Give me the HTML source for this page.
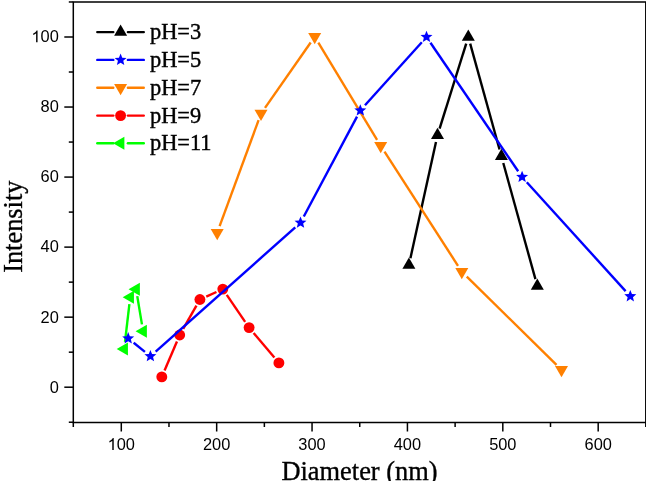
<!DOCTYPE html>
<html><head><meta charset="utf-8"><style>
html,body{margin:0;padding:0;background:#fff;}
svg{display:block;will-change:transform;}
</style></head><body>
<svg width="646" height="488" viewBox="0 0 646 488">
<rect width="646" height="488" fill="#fff"/>
<g stroke="#000" stroke-width="1.5" fill="none">
<rect x="73.3" y="2" width="572.5" height="420.5"/>
<line x1="68.8" y1="422.22" x2="73.3" y2="422.22"/>
<line x1="64.3" y1="387.2" x2="73.3" y2="387.2"/>
<line x1="68.8" y1="352.18" x2="73.3" y2="352.18"/>
<line x1="64.3" y1="317.16" x2="73.3" y2="317.16"/>
<line x1="68.8" y1="282.14" x2="73.3" y2="282.14"/>
<line x1="64.3" y1="247.12" x2="73.3" y2="247.12"/>
<line x1="68.8" y1="212.1" x2="73.3" y2="212.1"/>
<line x1="64.3" y1="177.08" x2="73.3" y2="177.08"/>
<line x1="68.8" y1="142.06" x2="73.3" y2="142.06"/>
<line x1="64.3" y1="107.04" x2="73.3" y2="107.04"/>
<line x1="68.8" y1="72.02" x2="73.3" y2="72.02"/>
<line x1="64.3" y1="37" x2="73.3" y2="37"/>
<line x1="68.8" y1="1.98" x2="73.3" y2="1.98"/>
<line x1="73.3" y1="422.5" x2="73.3" y2="427"/>
<line x1="121.29" y1="422.5" x2="121.29" y2="431.5"/>
<line x1="168.98" y1="422.5" x2="168.98" y2="427"/>
<line x1="216.67" y1="422.5" x2="216.67" y2="431.5"/>
<line x1="264.36" y1="422.5" x2="264.36" y2="427"/>
<line x1="312.05" y1="422.5" x2="312.05" y2="431.5"/>
<line x1="359.74" y1="422.5" x2="359.74" y2="427"/>
<line x1="407.43" y1="422.5" x2="407.43" y2="431.5"/>
<line x1="455.12" y1="422.5" x2="455.12" y2="427"/>
<line x1="502.81" y1="422.5" x2="502.81" y2="431.5"/>
<line x1="550.5" y1="422.5" x2="550.5" y2="427"/>
<line x1="598.19" y1="422.5" x2="598.19" y2="431.5"/>
<line x1="645.8" y1="422.5" x2="645.8" y2="427"/>
</g>
<g font-family="Liberation Sans" font-size="16.4" fill="#000">
<text x="49.68" y="393.4">0</text>
<text x="40.56" y="323.26">2</text><text x="49.68" y="323.26">0</text>
<text x="40.56" y="252.47">4</text><text x="49.68" y="252.47">0</text>
<text x="40.56" y="182.43">6</text><text x="49.68" y="182.43">0</text>
<text x="40.56" y="112.39">8</text><text x="49.68" y="112.39">0</text>
<path transform="translate(31.44,42.35) scale(0.008008,-0.008008)" d="M763 0L583 0L583 1147Q518 1085 465 1054Q412 1023 359 992Q306 961 221 930L221 1104Q372 1175 428.5 1225.5Q485 1276 541.5 1326.5Q598 1377 645 1472L763 1472Z"/><text x="40.56" y="42.35">0</text><text x="49.68" y="42.35">0</text>
<path transform="translate(107.61,449.9) scale(0.008008,-0.008008)" d="M763 0L583 0L583 1147Q518 1085 465 1054Q412 1023 359 992Q306 961 221 930L221 1104Q372 1175 428.5 1225.5Q485 1276 541.5 1326.5Q598 1377 645 1472L763 1472Z"/><text x="116.73" y="449.9">0</text><text x="125.85" y="449.9">0</text>
<text x="202.99" y="449.9">2</text><text x="212.11" y="449.9">0</text><text x="221.23" y="449.9">0</text>
<text x="298.37" y="449.9">3</text><text x="307.49" y="449.9">0</text><text x="316.61" y="449.9">0</text>
<text x="393.75" y="449.9">4</text><text x="402.87" y="449.9">0</text><text x="411.99" y="449.9">0</text>
<text x="489.13" y="449.9">5</text><text x="498.25" y="449.9">0</text><text x="507.37" y="449.9">0</text>
<text x="584.51" y="449.9">6</text><text x="593.63" y="449.9">0</text><text x="602.75" y="449.9">0</text>
</g>
<defs><clipPath id="cb"><rect x="0" y="0" width="646" height="481"/></clipPath></defs>
<text clip-path="url(#cb)" x="359.5" y="479.8" text-anchor="middle" font-family="Liberation Serif" stroke="#000" stroke-width="0.35" font-size="26.4">Diameter (nm)</text>
<text transform="translate(22.2,226.7) rotate(-90)" text-anchor="middle" font-family="Liberation Serif" stroke="#000" stroke-width="0.35" font-size="26.4">Intensity</text>
<g stroke="#000000" stroke-width="2.4" stroke-linecap="butt"><line x1="410.41" y1="258.26" x2="435.99" y2="142.04"/><line x1="439.59" y1="128.52" x2="466.21" y2="43.58"/><line x1="470.17" y1="43.65" x2="499.53" y2="149.55"/><line x1="503.27" y1="163.05" x2="535.43" y2="279.15"/></g><polygon points="408.9,257.59 415.4,268.85 402.4,268.85" fill="#000000"/><polygon points="437.5,127.69 444,138.95 431,138.95" fill="#000000"/><polygon points="468.3,29.39 474.8,40.65 461.8,40.65" fill="#000000"/><polygon points="501.4,148.79 507.9,160.05 494.9,160.05" fill="#000000"/><polygon points="537.3,278.39 543.8,289.65 530.8,289.65" fill="#000000"/>
<g stroke="#FF8000" stroke-width="2.4" stroke-linecap="butt"><line x1="219.62" y1="226.13" x2="258.58" y2="120.17"/><line x1="265.01" y1="107.86" x2="310.69" y2="42.44"/><line x1="318.32" y1="42.69" x2="377.08" y2="139.81"/><line x1="384.49" y1="151.68" x2="458.01" y2="265.82"/><line x1="466.79" y1="276.61" x2="556.51" y2="364.89"/></g><polygon points="217.2,240.21 223.7,228.95 210.7,228.95" fill="#FF8000"/><polygon points="261,121.11 267.5,109.85 254.5,109.85" fill="#FF8000"/><polygon points="314.7,44.21 321.2,32.95 308.2,32.95" fill="#FF8000"/><polygon points="380.7,153.31 387.2,142.05 374.2,142.05" fill="#FF8000"/><polygon points="461.8,279.21 468.3,267.95 455.3,267.95" fill="#FF8000"/><polygon points="561.5,377.31 568,366.05 555,366.05" fill="#FF8000"/>
<g stroke="#FF0000" stroke-width="2.4" stroke-linecap="butt"><line x1="164.55" y1="370.46" x2="176.95" y2="341.44"/><line x1="183.16" y1="328.92" x2="196.44" y2="305.58"/><line x1="206.27" y1="296.61" x2="216.43" y2="291.99"/><line x1="226.75" y1="294.88" x2="245.15" y2="321.82"/><line x1="253.62" y1="332.95" x2="274.38" y2="357.55"/></g><circle cx="161.8" cy="376.9" r="5.45" fill="#FF0000"/><circle cx="179.7" cy="335" r="5.45" fill="#FF0000"/><circle cx="199.9" cy="299.5" r="5.45" fill="#FF0000"/><circle cx="222.8" cy="289.1" r="5.45" fill="#FF0000"/><circle cx="249.1" cy="327.6" r="5.45" fill="#FF0000"/><circle cx="278.9" cy="362.9" r="5.45" fill="#FF0000"/>
<g stroke="#00FF00" stroke-width="2.4" stroke-linecap="butt"><line x1="125.01" y1="341.95" x2="129.39" y2="304.15"/><line x1="137.25" y1="296.11" x2="141.95" y2="324.39"/></g><polygon points="116.69,348.9 127.95,342.4 127.95,355.4" fill="#00FF00"/><polygon points="122.69,297.2 133.95,290.7 133.95,303.7" fill="#00FF00"/><polygon points="128.59,289.2 139.85,282.7 139.85,295.7" fill="#00FF00"/><polygon points="135.59,331.3 146.85,324.8 146.85,337.8" fill="#00FF00"/>
<g stroke="#0000FF" stroke-width="2.4" stroke-linecap="butt"><line x1="133.66" y1="342.78" x2="144.94" y2="351.82"/><line x1="155.63" y1="351.55" x2="295.27" y2="227.35"/><line x1="303.79" y1="216.52" x2="357.01" y2="116.68"/><line x1="364.98" y1="105.3" x2="421.82" y2="42.2"/><line x1="430.45" y1="42.78" x2="518.15" y2="171.22"/><line x1="526.8" y1="182.19" x2="625.6" y2="291.11"/></g><polygon points="128.2,332.1 129.85,336.13 134.19,336.45 130.86,339.27 131.9,343.5 128.2,341.2 124.5,343.5 125.54,339.27 122.21,336.45 126.55,336.13" fill="#0000FF"/><polygon points="150.4,349.9 152.05,353.93 156.39,354.25 153.06,357.07 154.1,361.3 150.4,359 146.7,361.3 147.74,357.07 144.41,354.25 148.75,353.93" fill="#0000FF"/><polygon points="300.5,216.4 302.15,220.43 306.49,220.75 303.16,223.57 304.2,227.8 300.5,225.5 296.8,227.8 297.84,223.57 294.51,220.75 298.85,220.43" fill="#0000FF"/><polygon points="360.3,104.2 361.95,108.23 366.29,108.55 362.96,111.37 364,115.6 360.3,113.3 356.6,115.6 357.64,111.37 354.31,108.55 358.65,108.23" fill="#0000FF"/><polygon points="426.5,30.7 428.15,34.73 432.49,35.05 429.16,37.87 430.2,42.1 426.5,39.8 422.8,42.1 423.84,37.87 420.51,35.05 424.85,34.73" fill="#0000FF"/><polygon points="522.1,170.7 523.75,174.73 528.09,175.05 524.76,177.87 525.8,182.1 522.1,179.8 518.4,182.1 519.44,177.87 516.11,175.05 520.45,174.73" fill="#0000FF"/><polygon points="630.3,290 631.95,294.03 636.29,294.35 632.96,297.17 634,301.4 630.3,299.1 626.6,301.4 627.64,297.17 624.31,294.35 628.65,294.03" fill="#0000FF"/>
<g stroke="#000000" stroke-width="2.4" stroke-linecap="round"><line x1="97.3" y1="32.1" x2="113.3" y2="32.1"/><line x1="127.9" y1="32.1" x2="143.8" y2="32.1"/></g>
<polygon points="120.6,24.59 127.1,35.85 114.1,35.85" fill="#000000"/>
<text x="150" y="39" font-family="Liberation Serif" stroke="#000" stroke-width="0.4" font-size="22.4" fill="#000">pH=3</text>
<g stroke="#0000FF" stroke-width="2.4" stroke-linecap="round"><line x1="97.3" y1="59.9" x2="113.3" y2="59.9"/><line x1="127.9" y1="59.9" x2="143.8" y2="59.9"/></g>
<polygon points="120.6,53.6 122.25,57.63 126.59,57.95 123.26,60.77 124.3,65 120.6,62.7 116.9,65 117.94,60.77 114.61,57.95 118.95,57.63" fill="#0000FF"/>
<text x="150" y="66.8" font-family="Liberation Serif" stroke="#000" stroke-width="0.4" font-size="22.4" fill="#000">pH=5</text>
<g stroke="#FF8000" stroke-width="2.4" stroke-linecap="round"><line x1="97.3" y1="87.7" x2="113.3" y2="87.7"/><line x1="127.9" y1="87.7" x2="143.8" y2="87.7"/></g>
<polygon points="120.6,95.21 127.1,83.95 114.1,83.95" fill="#FF8000"/>
<text x="150" y="94.6" font-family="Liberation Serif" stroke="#000" stroke-width="0.4" font-size="22.4" fill="#000">pH=7</text>
<g stroke="#FF0000" stroke-width="2.4" stroke-linecap="round"><line x1="97.3" y1="115.6" x2="113.3" y2="115.6"/><line x1="127.9" y1="115.6" x2="143.8" y2="115.6"/></g>
<circle cx="120.6" cy="115.6" r="5.45" fill="#FF0000"/>
<text x="150" y="122.5" font-family="Liberation Serif" stroke="#000" stroke-width="0.4" font-size="22.4" fill="#000">pH=9</text>
<g stroke="#00FF00" stroke-width="2.4" stroke-linecap="round"><line x1="97.3" y1="143.2" x2="113.3" y2="143.2"/><line x1="127.9" y1="143.2" x2="143.8" y2="143.2"/></g>
<polygon points="113.09,143.2 124.35,136.7 124.35,149.7" fill="#00FF00"/>
<text x="150" y="150.1" font-family="Liberation Serif" stroke="#000" stroke-width="0.4" font-size="22.4" fill="#000">pH=11</text>
</svg>
</body></html>
